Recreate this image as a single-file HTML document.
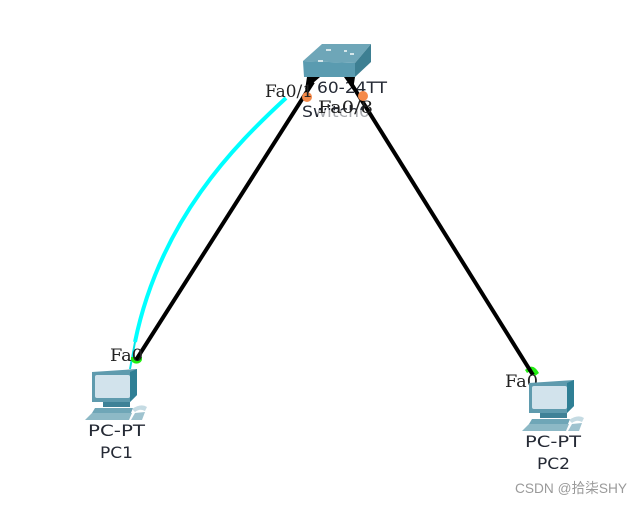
<!DOCTYPE html>
<html>
<head>
<meta charset="utf-8">
<style>
html,body{margin:0;padding:0;background:#fff;width:643px;height:505px;overflow:hidden}
svg{display:block}
.d{font-family:'DejaVu Sans',sans-serif;fill:#252a35}
.s{font-family:'DejaVu Serif',serif;font-size:16.5px;fill:#222}
</style>
</head>
<body>
<svg width="643" height="505" viewBox="0 0 643 505" xmlns="http://www.w3.org/2000/svg">
<defs>
<g id="pc">
<path d="M7 3 L52 0 L52 26 L45 33 L7 33 Z" fill="#5f9bae"/>
<path d="M45 3 L52 0 L52 26 L45 33 Z" fill="#2f7f95"/>
<rect x="10" y="6" width="35" height="23" rx="2" fill="#d2e3ec"/>
<path d="M18 33 L45 33 L45 38 L18 38 Z" fill="#3f8297"/>
<path d="M10 39 L48 39 L46 44 L7 44 Z" fill="#6fa6b7"/>
<path d="M0 51 L7 44 L47 44 L44 51 Z" fill="#8db9c6"/>
<path d="M47 40 Q56 34 62 38 L60 42 Q55 39 50 43 Z" fill="#c5dbe3"/>
<path d="M50 44 L60 43 L57 51 L46 51 Z" fill="#9fc3cf"/>
</g>
</defs>
<text class="d" x="317" y="93" font-size="16" textLength="70" lengthAdjust="spacingAndGlyphs">60-24TT</text>
<text class="d" x="302" y="117" font-size="16" textLength="68" lengthAdjust="spacingAndGlyphs">Switch0</text>
<rect x="318" y="110" width="50" height="8" fill="#fff" fill-opacity=".6"/>
<path d="M286 98 C235 145 160 220 135 342" fill="none" stroke="#00ffff" stroke-width="4"/>
<line x1="135" y1="342" x2="130" y2="369" stroke="#00e5e5" stroke-width="2"/>
<path d="M131 360 A6 6 0 0 0 142 360 L142 357 L131 357 Z" fill="#22ee11"/>
<path d="M525 370 Q533 362 539 373 L535 376 Q531 370 527 373 Z" fill="#22ee11"/>
<line x1="136" y1="360" x2="313" y2="82" stroke="#000" stroke-width="4"/>
<line x1="349" y1="80" x2="533" y2="375" stroke="#000" stroke-width="4"/>
<path d="M305 90 L307 77 L320 77 Z" fill="#000"/>
<path d="M344 77 L355 77 L353 90 Z" fill="#000"/>
<path d="M303 61 L322 44 L371 44 L355 63 Z" fill="#6ea6b8"/>
<path d="M355 63 L371 44 L371 62 L355 77 Z" fill="#3d7f92"/>
<path d="M303 61 L355 63 L355 77 L304 77 Z" fill="#5a9bb0"/>
<rect x="318" y="60" width="5" height="2" fill="#d5e6ea"/>
<rect x="326" y="49" width="5" height="2" fill="#d5e6ea"/>
<rect x="350" y="53" width="4" height="2" fill="#d5e6ea"/>
<rect x="344" y="50" width="3" height="2" fill="#d5e6ea"/>
<circle cx="307" cy="97" r="5" fill="#f58a4a"/>
<circle cx="363" cy="96" r="5" fill="#f58a4a"/>
<text class="s" x="265" y="97" textLength="48" lengthAdjust="spacingAndGlyphs">Fa0/1</text>
<text class="s" x="318" y="113" textLength="55" lengthAdjust="spacingAndGlyphs">Fa0/8</text>
<text class="s" x="110" y="361" textLength="33" lengthAdjust="spacingAndGlyphs">Fa0</text>
<text class="s" x="505" y="387" textLength="33" lengthAdjust="spacingAndGlyphs">Fa0</text>
<use href="#pc" x="85" y="369"/>
<use href="#pc" x="522" y="380"/>
<text class="d" x="88" y="436" font-size="16" textLength="57" lengthAdjust="spacingAndGlyphs">PC-PT</text>
<text class="d" x="100" y="458" font-size="16" textLength="33" lengthAdjust="spacingAndGlyphs">PC1</text>
<text class="d" x="525" y="447" font-size="16" textLength="56" lengthAdjust="spacingAndGlyphs">PC-PT</text>
<text class="d" x="537" y="469" font-size="16" textLength="33" lengthAdjust="spacingAndGlyphs">PC2</text>
<text x="515" y="493" font-family="'Liberation Sans','Noto Sans CJK SC',sans-serif" font-size="14" fill="#9a9a9a" textLength="112" lengthAdjust="spacingAndGlyphs">CSDN @拾柒SHY</text>
</svg>
</body>
</html>
